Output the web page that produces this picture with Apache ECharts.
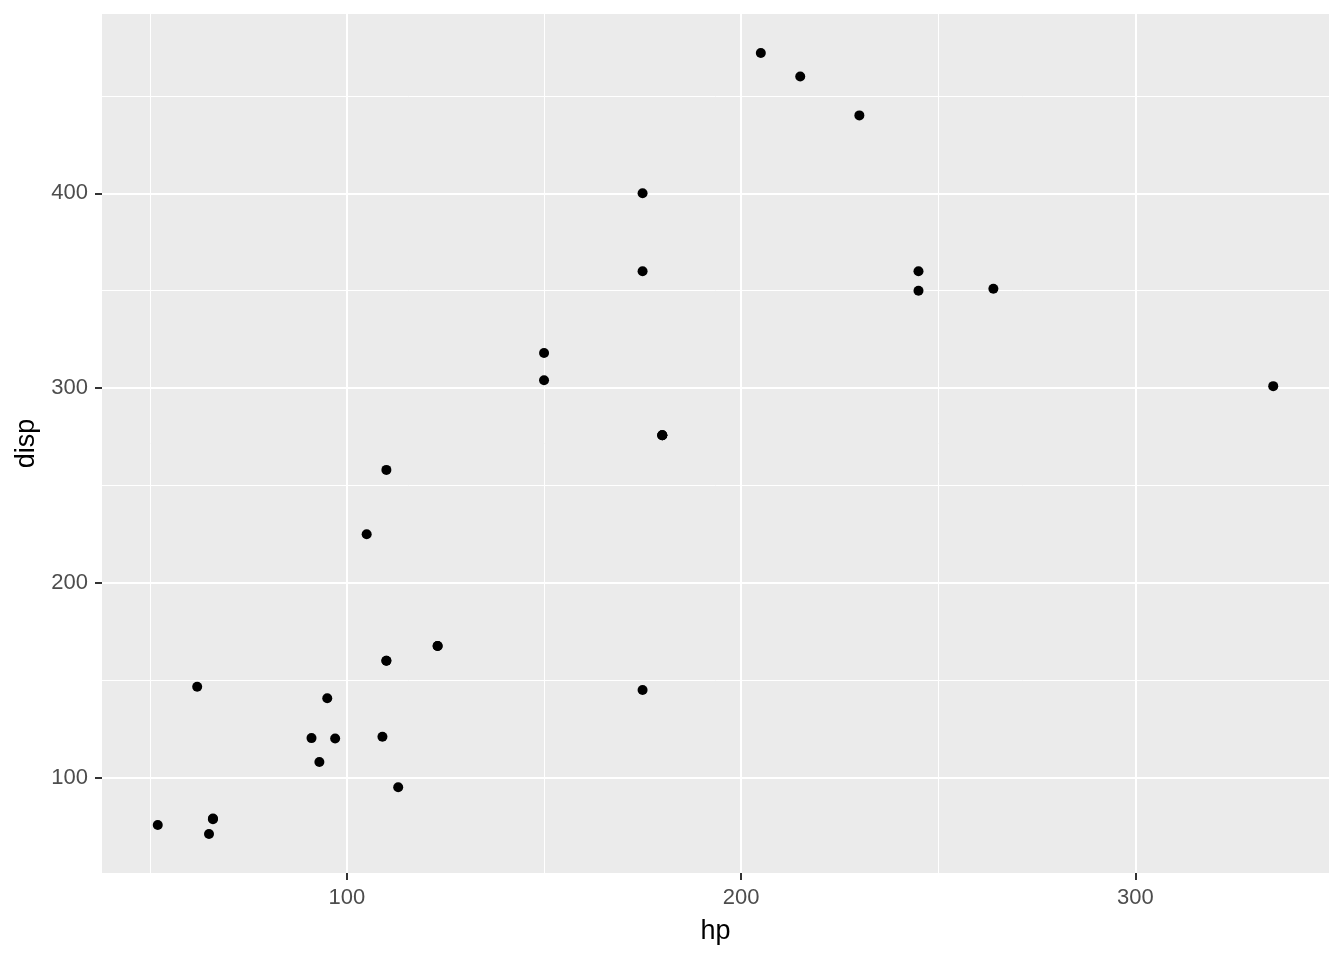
<!DOCTYPE html>
<html>
<head>
<meta charset="utf-8">
<script src="https://cdn.jsdelivr.net/npm/echarts@6/dist/echarts.min.js"></script>
<style>html,body{margin:0;padding:0;background:#fff}#c{width:1344px;height:960px}</style>
</head>
<body>
<div id="c"></div>
<script>
const hp = [110,110,93,110,175,105,245,62,95,123,123,180,180,180,205,215,230,66,52,65,97,150,150,245,175,66,91,113,264,175,335,109];
const disp = [160,160,108,258,360,225,360,146.7,140.8,167.6,167.6,275.8,275.8,275.8,472,460,440,78.7,75.7,71.1,120.1,318,304,350,400,79,120.3,95.1,351,145,301,121];
const xTicks = [100,200,300];
const yTicks = [100,200,300,400];
const xMinor = [50,150,250];
const yMinor = [150,250,350,450];

const xMin = 37.85, xMax = 349.15, yMin = 51.055, yMax = 492.045;
const chart = echarts.init(document.getElementById('c'));
const pts = hp.map((h,i)=>[h,disp[i]]);
const gridLines = [];
xMinor.forEach(v=>gridLines.push({xAxis:v,lineStyle:{width:1}}));
yMinor.forEach(v=>gridLines.push({yAxis:v,lineStyle:{width:1}}));
xTicks.forEach(v=>gridLines.push({xAxis:v,lineStyle:{width:2}}));
yTicks.forEach(v=>gridLines.push({yAxis:v,lineStyle:{width:2}}));
const font = 'Liberation Sans, Arial, sans-serif';
chart.setOption({
  animation:false,
  grid:{left:102,right:15,top:14,bottom:87,show:true,backgroundColor:'#EBEBEB',borderWidth:0},
  xAxis:{type:'value',min:xMin,max:xMax,
    name:'hp',nameLocation:'middle',nameGap:45,nameTextStyle:{color:'#000',fontSize:27,fontFamily:font},
    axisLine:{show:false},splitLine:{show:false},
    axisTick:{show:true,length:7,lineStyle:{color:'#333',width:2},customValues:xTicks},
    axisLabel:{customValues:xTicks,color:'#4D4D4D',fontSize:22,fontFamily:font,margin:14}},
  yAxis:{type:'value',min:yMin,max:yMax,
    name:'disp',nameLocation:'middle',nameGap:56,nameTextStyle:{color:'#000',fontSize:27,fontFamily:font},
    axisLine:{show:false},splitLine:{show:false},
    axisTick:{show:true,length:7,lineStyle:{color:'#333',width:2},customValues:yTicks},
    axisLabel:{customValues:yTicks,color:'#4D4D4D',fontSize:22,fontFamily:font,margin:14}},
  series:[
    {type:'scatter',data:[],z:1,silent:true,
     markLine:{silent:true,symbol:'none',label:{show:false},animation:false,
       lineStyle:{color:'#FFFFFF',type:'solid'},emphasis:{disabled:true},data:gridLines}},
    {type:'scatter',data:pts,symbolSize:10,z:5,itemStyle:{color:'#000',opacity:1}}
  ]
});
</script>
</body>
</html>
